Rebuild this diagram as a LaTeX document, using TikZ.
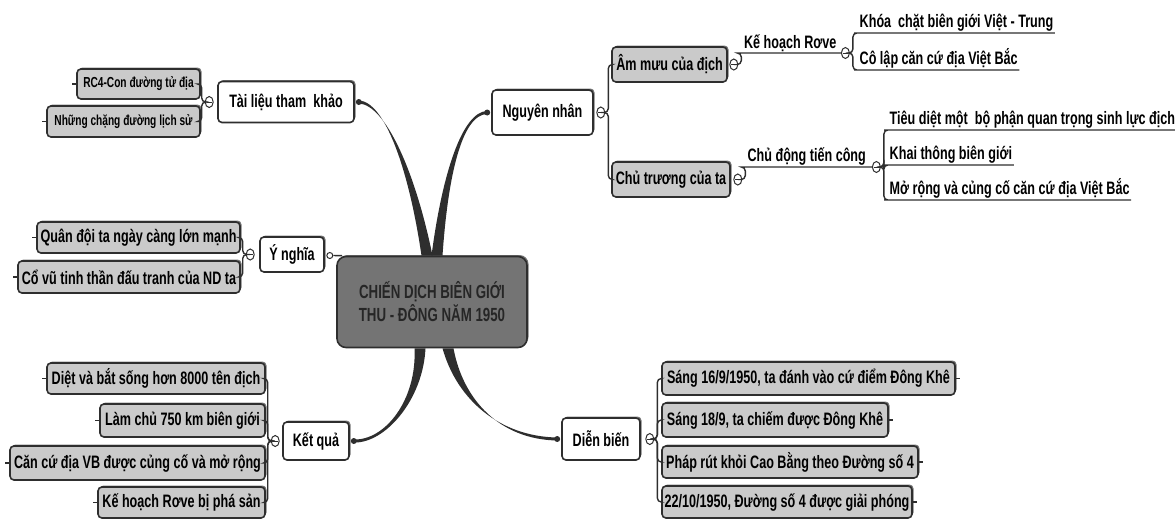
\documentclass[tikz,border=0pt]{standalone}
\usepackage{fontspec}
\setmainfont{Liberation Sans}[FakeStretch=0.7]
\usetikzlibrary{calc,shadows,shapes.geometric}

\definecolor{linec}{HTML}{2E2E2E}
\definecolor{boxgray}{HTML}{CACACA}
\definecolor{coregray}{HTML}{747474}

% tapered main branch: start, end, control near start, control near end
\newcommand\branch[4]{%
  \fill[linec] ($(#1)+(-5.5,0)$) .. controls ($(#3)+(-3,0)$) and ($(#4)+(0,-1.5)$) .. ($(#2)+(0,-1.5)$)
    -- ($(#2)+(0,1.5)$) .. controls ($(#4)+(0,1.5)$) and ($(#3)+(3,0)$) .. ($(#1)+(5.5,0)$) -- cycle;}

\begin{document}
\begin{tikzpicture}[x=1pt,y=-1pt,
  base/.style={draw=linec, line width=1.6, rounded corners=4, inner sep=2,
    font=\fontsize{18}{20}\selectfont\bfseries,
    drop shadow={shadow xshift=1.5, shadow yshift=-1.5, opacity=0.55, fill=black}},
  topic/.style={base, fill=white},
  leaf/.style={base, fill=boxgray},
  small/.style={font=\fontsize{14.5}{16}\selectfont\bfseries},
  core/.style={base, fill=coregray, rounded corners=9, text=black!85, align=center,
    font=\fontsize{19}{23}\selectfont\bfseries},
  plain/.style={inner sep=1.5, font=\fontsize{18}{20}\selectfont\bfseries},
  link/.style={draw=linec, line width=1.4, rounded corners=4},
  fold/.style={ellipse, draw=linec, fill=white, line width=1, minimum width=8, minimum height=11, inner sep=0,
    path picture={\draw[line width=0.9] ([xshift=1.5]path picture bounding box.west) -- ([xshift=-1.5]path picture bounding box.east);}},
  dot/.style={circle, fill=linec, minimum size=6, inner sep=0},
  ring/.style={circle, draw=linec, fill=white, line width=1, minimum size=6, inner sep=0}]
\useasboundingbox (0,0) rectangle (1175,520);

% Central topic
\node[core, minimum width=190, minimum height=91] (core) at (432,302)
  {CHIẾN DỊCH BIÊN GIỚI\\THU - ĐÔNG NĂM 1950};

% Main topics
\node[topic, minimum width=136, minimum height=41] (tl) at (286,102) {Tài liệu tham\ \ khảo};
\node[topic, minimum width=64, minimum height=35] (yn) at (292,254.5) {Ý nghĩa};
\node[topic, minimum width=66, minimum height=38] (kq) at (316,441) {Kết quả};
\node[topic, minimum width=101, minimum height=45] (nn) at (542.5,112.5) {Nguyên nhân};
\node[topic, minimum width=78, minimum height=42] (db) at (601,439) {Diễn biến};

% Branch ends
\node[dot] (tld) at ($(tl.east)+(4,0)$) {};
\node[dot] (nnd) at ($(nn.west)+(-4,0)$) {};
\node[dot] (kqd) at ($(kq.east)+(4,0)$) {};
\node[dot] (dbd) at ($(db.west)+(-4,0)$) {};
\node[ring] (ynd) at ($(yn.east)+(5,1)$) {};

\coordinate (b1) at ($(core.north)+(-5,0)$);
\coordinate (b2) at ($(core.north)+(5,0)$);
\coordinate (b3) at ($(core.south)+(-12,0)$);
\coordinate (b4) at ($(core.south)+(16,0)$);
\branch{b1}{tld}{412,170}{385,103}
\branch{b2}{nnd}{445,175}{462,113}
\branch{b3}{kqd}{420,400}{385,442}
\branch{b4}{dbd}{460,400}{500,438}
\draw[link] (ynd.east) -- ($(core.north west)+(6,0)$);

% Tài liệu tham khảo
\node[leaf, small, minimum width=123, minimum height=30] (tl1) at (138.5,84) {RC4-Con đường tử địa};
\node[leaf, small, minimum width=153, minimum height=31] (tl2) at (123.5,121.5) {Những chặng đường lịch sử};
\node[fold] (tlf) at ($(tl.west)+(-8,0)$) {};
\draw[link] (tlf.west) -- ++(-3,0) |- (tl1.east);
\draw[link] (tlf.west) -- ++(-3,0) |- (tl2.east);

% Ý nghĩa
\node[leaf, minimum width=203, minimum height=31] (yn1) at (138.5,237.5) {Quân đội ta ngày càng lớn mạnh};
\node[leaf, minimum width=222, minimum height=32] (yn2) at (129,277) {Cổ vũ tinh thần đấu tranh của ND ta};
\node[fold] (ynf) at ($(yn.west)+(-9,0)$) {};
\draw[link] (ynf.west) -- ++(-3,0) |- (yn1.east);
\draw[link] (ynf.west) -- ++(-3,0) |- (yn2.east);

% Kết quả
\node[leaf, minimum width=218, minimum height=31] (kq1) at (156,378.5) {Diệt và bắt sống hơn 8000 tên địch};
\node[leaf, minimum width=165, minimum height=33] (kq2) at (182.5,420.5) {Làm chủ 750 km biên giới};
\node[leaf, minimum width=255, minimum height=34] (kq3) at (137.5,463) {Căn cứ địa VB được củng cố và mở rộng};
\node[leaf, minimum width=167, minimum height=31] (kq4) at (181.5,502.5) {Kế hoạch Rơve bị phá sản};
\node[fold] (kqf) at ($(kq.west)+(-7,0)$) {};
\foreach \n in {kq1,kq2,kq3,kq4}
  \draw[link] (kqf.west) -- ++(-3,0) |- (\n.east);

\foreach \n in {tl1,tl2,yn1,yn2,kq1,kq2,kq3,kq4}
  \draw[link] (\n.west) -- ++(-4,0);

% Nguyên nhân
\node[leaf, minimum width=115, minimum height=35] (am) at (669.5,64.5) {Âm mưu của địch};
\node[leaf, minimum width=118, minimum height=35] (ct) at (671,179.5) {Chủ trương của ta};
\node[fold] (nnf) at ($(nn.east)+(7,0)$) {};
\draw[link] (nnf.east) -- ++(3,0) |- (am.west);
\draw[link] (nnf.east) -- ++(3,0) |- (ct.west);

\node[fold] (amf) at ($(am.east)+(6,0)$) {};
\node[plain, anchor=south west, minimum width=100] (khr) at (740,53) {Kế hoạch Rơve};
\node[fold] (khrf) at ($(khr.south east)+(5,0)$) {};
\draw[link] (amf.east) -- ++(3,0) |- (khr.south west) -- (khrf.west);
\node[plain, anchor=south west, minimum width=194] (k1) at (858,33) {Khóa\ \ chặt biên giới Việt - Trung};
\node[plain, anchor=south west, minimum width=160] (k2) at (858,70) {Cô lập căn cứ địa Việt Bắc};
\draw[link] (khrf.east) -- ++(3,0) |- (k1.south west) -- (k1.south east);
\draw[link] (khrf.east) -- ++(3,0) |- (k2.south west) -- (k2.south east);

\node[fold] (ctf) at ($(ct.east)+(7,0)$) {};
\node[plain, anchor=south west, minimum width=127] (cd) at (743,167) {Chủ động tiến công};
\node[fold] (cdf) at ($(cd.south east)+(6,0)$) {};
\draw[link] (ctf.east) -- ++(3,0) |- (cd.south west) -- (cdf.west);
\node[plain, anchor=south west, minimum width=282] (c1) at (888,130) {Tiêu diệt một\ \ bộ phận quan trọng sinh lực địch};
\node[plain, anchor=south west, minimum width=124] (c2) at (888,165) {Khai thông biên giới};
\node[plain, anchor=south west, minimum width=242] (c3) at (888,200) {Mở rộng và củng cố căn cứ địa Việt Bắc};
\foreach \n in {c1,c2,c3}
  \draw[link] (cdf.east) -- ++(3,0) |- (\n.south west) -- (\n.south east);

% Diễn biến
\node[leaf, minimum width=293, minimum height=33] (d1) at (808.5,378.5) {Sáng 16/9/1950, ta đánh vào cứ điểm Đông Khê};
\node[leaf, minimum width=226, minimum height=34] (d2) at (775,420) {Sáng 18/9, ta chiếm được Đông Khê};
\node[leaf, minimum width=256, minimum height=32] (d3) at (790,462) {Pháp rút khỏi Cao Bằng theo Đường số 4};
\node[leaf, minimum width=250, minimum height=32] (d4) at (787,502) {22/10/1950, Đường số 4 được giải phóng};
\node[fold] (dbf) at ($(db.east)+(9,0)$) {};
\foreach \n in {d1,d2,d3,d4} {
  \draw[link] (dbf.east) -- ++(3,0) |- (\n.west);
  \draw[link] (\n.east) -- ++(4,0);
}
\end{tikzpicture}
\end{document}
